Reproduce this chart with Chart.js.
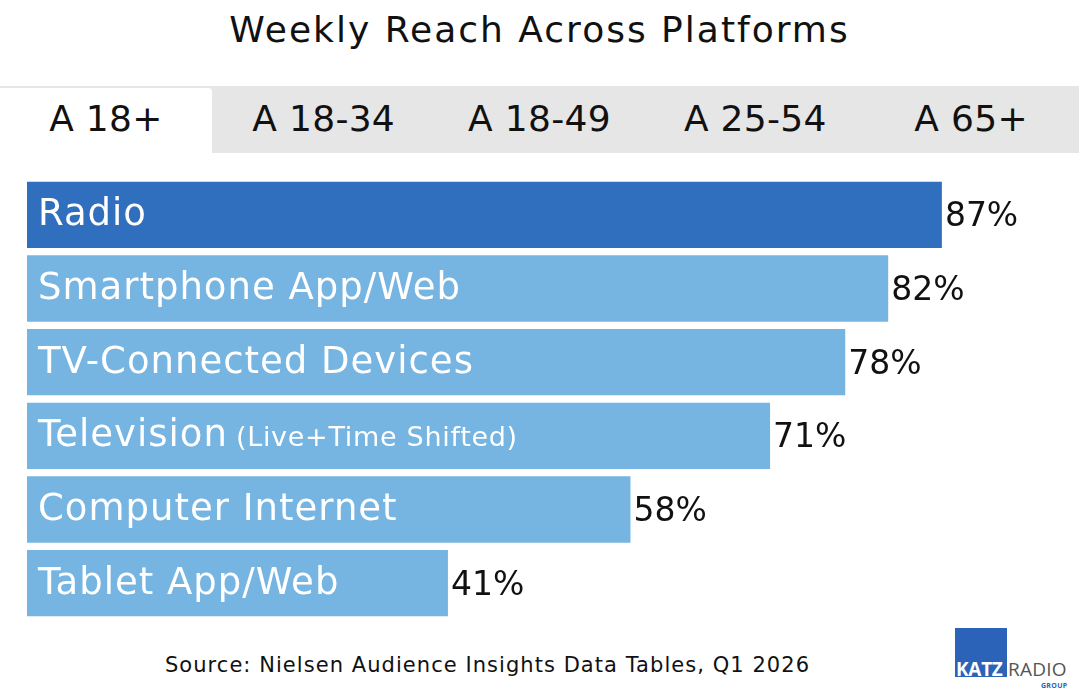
<!DOCTYPE html>
<html>
<head>
<meta charset="utf-8">
<script src="https://cdn.jsdelivr.net/npm/chart.js@4"></script>
<style>
  body { margin: 0; width: 1079px; height: 691px; background: #fff; font-family: "DejaVu Sans", sans-serif; position: relative; overflow: hidden; }
  #title { position: absolute; top: 9px; left: 0; width: 1079px; text-align: center; font-size: 36px; color: #111; letter-spacing: 2px; }
  #tabs { position: absolute; top: 86px; left: 0; width: 1079px; height: 67px; background: #e6e6e6; display: flex; }
  .tab { width: 216px; height: 65px; margin-top: 2px; text-align: center; line-height: 62px; font-size: 36px; color: #111; letter-spacing: 0.3px; }
  .tab.active { background: #fff; border-top-right-radius: 4px; width: 212px; margin-right: 4px; }
  #wrap { position: absolute; left: 0; top: 170px; width: 1079px; height: 455px; }
  #source { position: absolute; top: 653px; left: 0; width: 975px; text-align: center; font-size: 21px; color: #111; letter-spacing: 1.05px; }
  #logo { position: absolute; left: 955px; top: 628px; font-family: "Open Sans", sans-serif; }
  #logo .sq { position: absolute; left: 0; top: 0; width: 52px; height: 49px; background: #2a63b8; }
  #logo .katz { position: absolute; left: 1px; top: 29px; font: bold 19px "Open Sans", sans-serif; color: #fff; line-height: 25px; letter-spacing: -0.3px; }
  #logo .radio { position: absolute; left: 53px; top: 29px; font-size: 19px; color: #555; line-height: 25px; letter-spacing: 0.2px; }
  #logo .group { position: absolute; left: 86px; top: 53px; font: bold 7px "Open Sans", sans-serif; color: #2a63b8; letter-spacing: 0.3px; }
</style>
</head>
<body>
<div id="title">Weekly Reach Across Platforms</div>
<div id="tabs"></div>
<div id="wrap"><canvas id="reachChart"></canvas></div>
<div id="source">Source: Nielsen Audience Insights Data Tables, Q1 2026</div>
<div id="logo"><div class="sq"></div><div class="katz">KATZ</div><div class="radio">RADIO</div><div class="group">GROUP</div></div>

<script>
var tabLabels = ["A 18+", "A 18-34", "A 18-49", "A 25-54", "A 65+"];
var platforms = ["Radio", "Smartphone App/Web", "TV-Connected Devices", "Television", "Computer Internet", "Tablet App/Web"];
var subLabels = ["", "", "", "(Live+Time Shifted)", "", ""];
var reach = [87, 82, 78, 71, 58, 41];
var barColors = ["#2f6fbe", "#76b4e1", "#76b4e1", "#76b4e1", "#76b4e1", "#76b4e1"];

var tabsEl = document.getElementById("tabs");
tabLabels.forEach(function (t, i) {
  var d = document.createElement("div");
  d.className = "tab" + (i === 0 ? " active" : "");
  d.textContent = t;
  tabsEl.appendChild(d);
});

// label inside bar + value after it
var barText = {
  id: "barText",
  afterDatasetsDraw: function (chart) {
    var ctx = chart.ctx;
    var meta = chart.getDatasetMeta(0);
    ctx.save();
    ctx.textBaseline = "middle";
    meta.data.forEach(function (bar, i) {
      var left = chart.chartArea.left;
      ctx.fillStyle = "#fff";
      ctx.textAlign = "left";
      ctx.letterSpacing = "1px";
      ctx.font = "37px 'DejaVu Sans', sans-serif";
      ctx.fillText(platforms[i], left + 11, bar.y + 1);
      if (subLabels[i]) {
        var w = ctx.measureText(platforms[i]).width;
        ctx.letterSpacing = "0.7px";
        ctx.font = "27px 'DejaVu Sans', sans-serif";
        ctx.fillText(subLabels[i], left + 11 + w + 8, bar.y + 3);
      }
      ctx.fillStyle = "#111";
      ctx.letterSpacing = "0px";
      ctx.font = "33px 'DejaVu Sans', sans-serif";
      ctx.fillText(reach[i] + "%", bar.x + 3, bar.y + 3);
    });
    ctx.restore();
  }
};

new Chart(document.getElementById("reachChart"), {
  type: "bar",
  data: {
    labels: platforms,
    datasets: [{
      data: reach,
      backgroundColor: barColors,
      borderWidth: 0,
      barPercentage: 0.9,
      categoryPercentage: 1
    }]
  },
  options: {
    indexAxis: "y",
    responsive: true,
    maintainAspectRatio: false,
    animation: false,
    layout: { padding: { left: 27, right: 19, top: 8, bottom: 5 } },
    plugins: { legend: { display: false }, tooltip: { enabled: false } },
    scales: {
      x: { display: false, min: 1.8, max: 98 },
      y: { display: false }
    }
  },
  plugins: [barText]
});
</script>
</body>
</html>
